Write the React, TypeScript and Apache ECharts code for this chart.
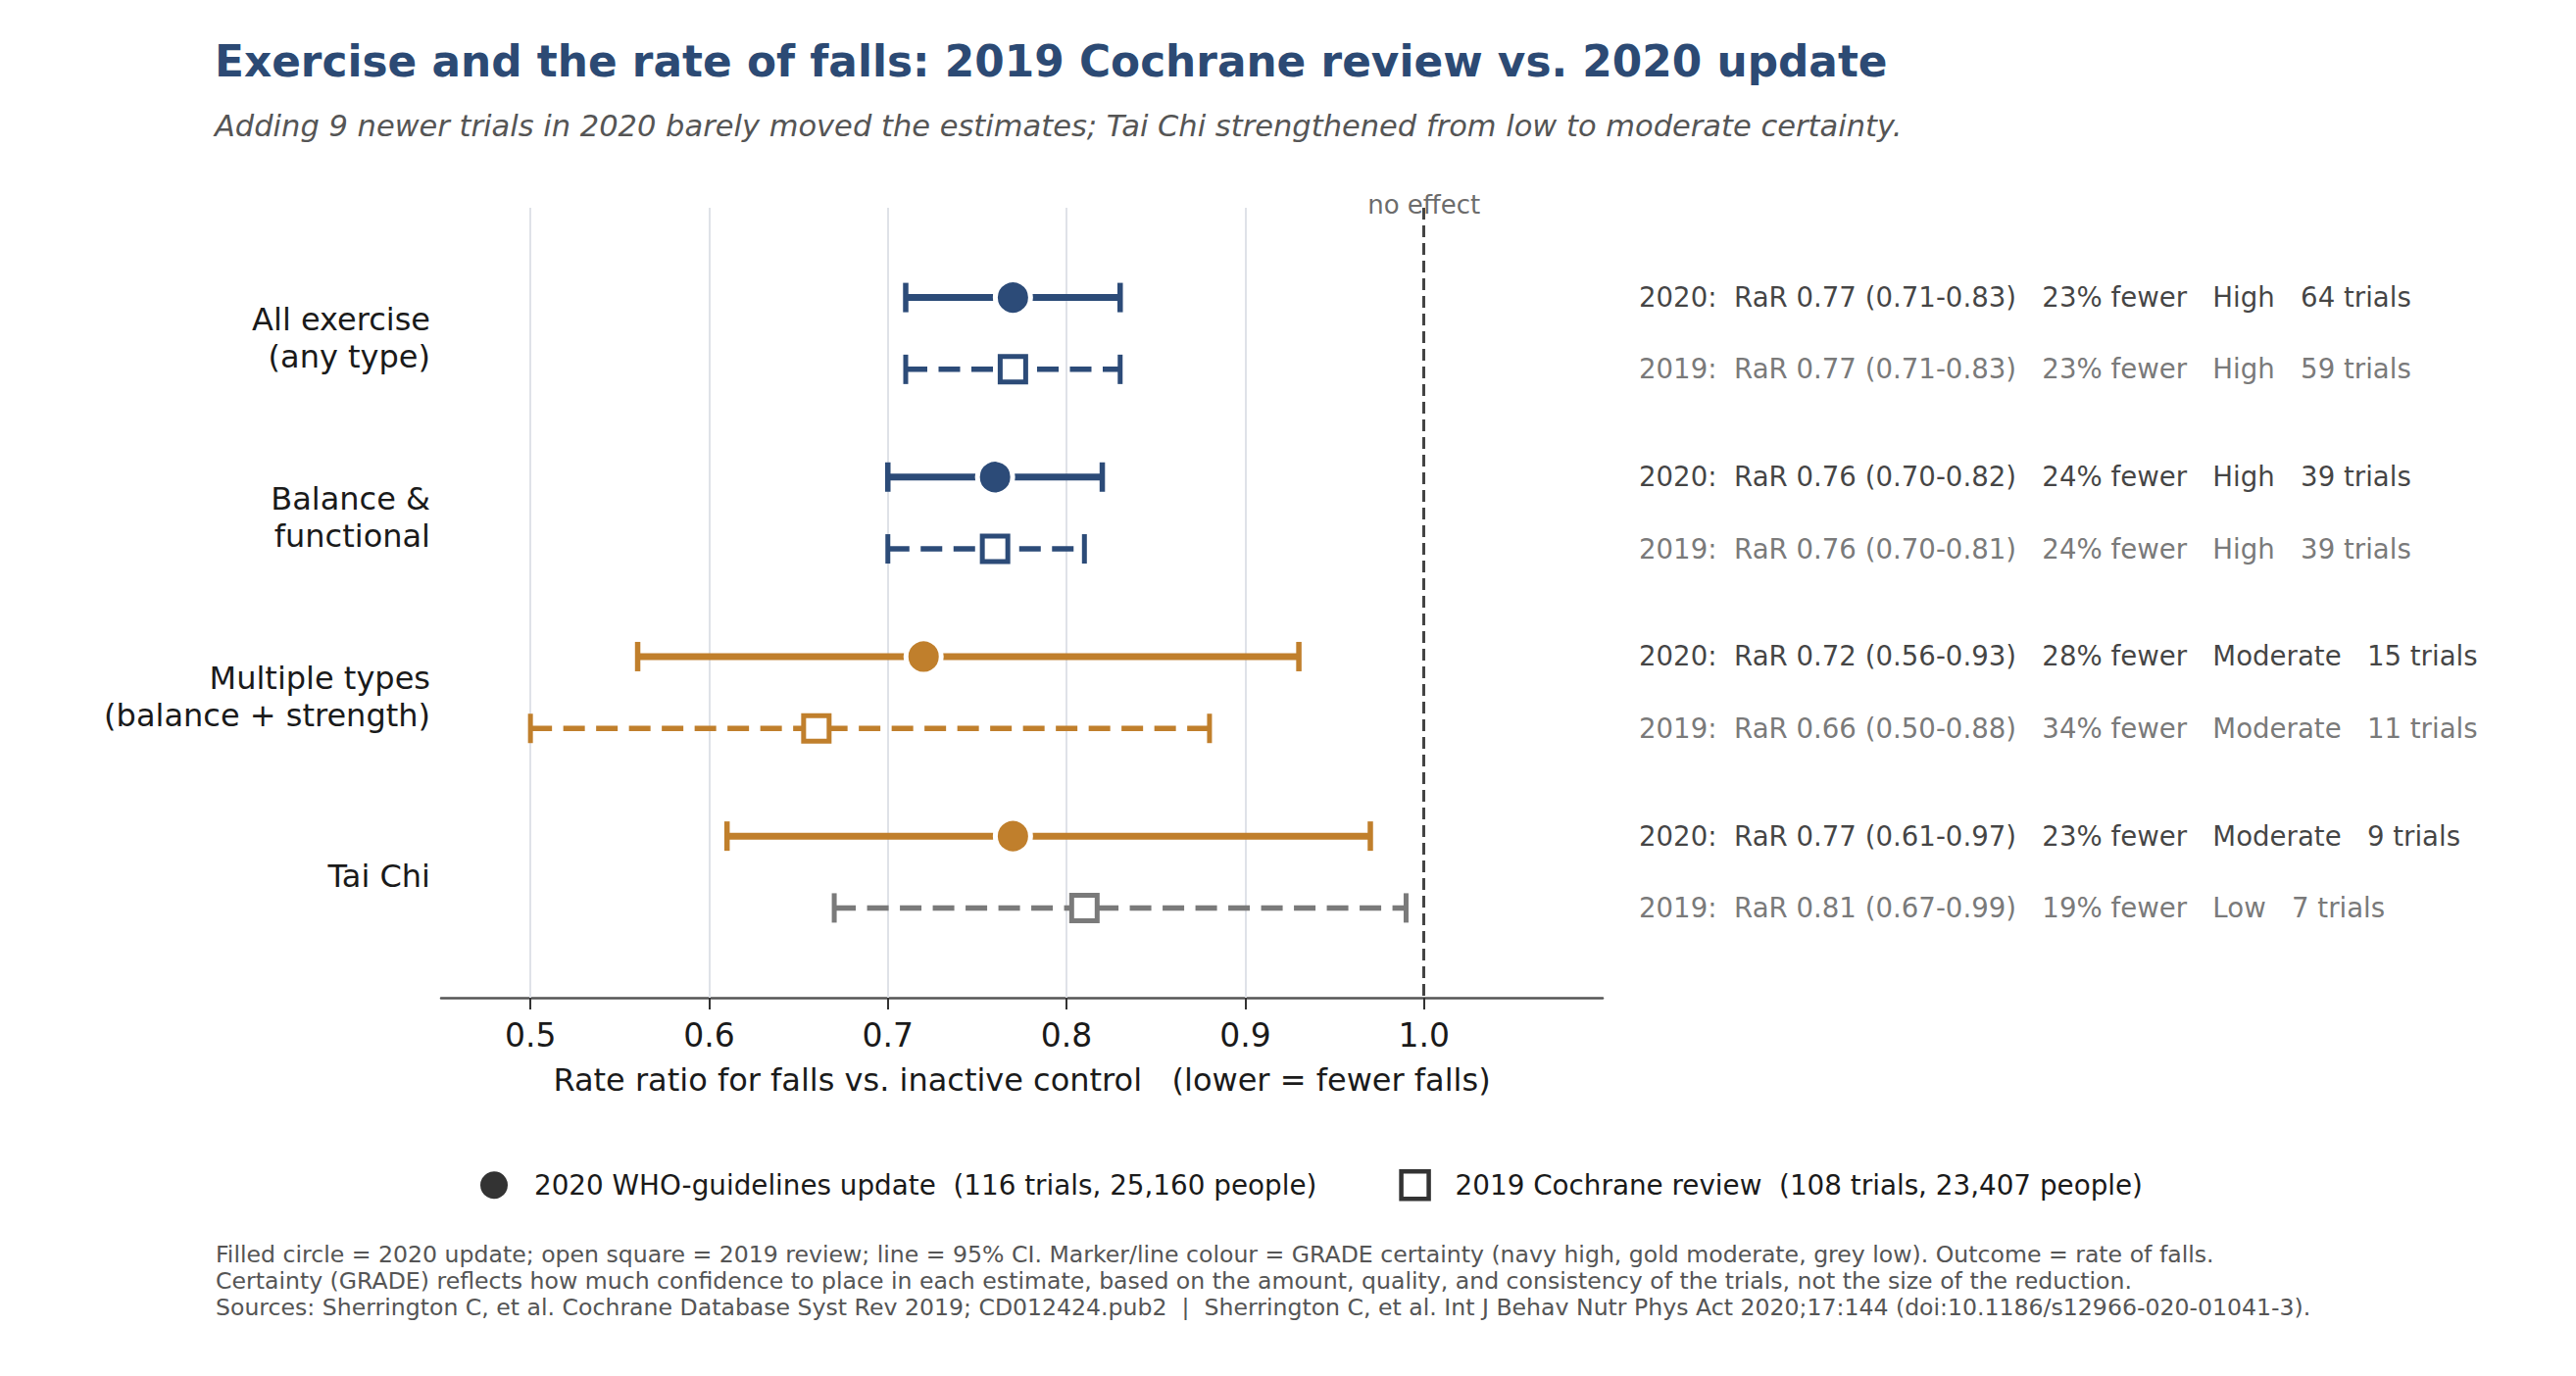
import React, { useEffect, useRef } from "react";
import * as echarts from "echarts";

// ---------- data ----------
const categories = [
  "All exercise\n(any type)",
  "Balance &\nfunctional",
  "Multiple types\n(balance + strength)",
  "Tai Chi",
];
const xTicks = [0.5, 0.6, 0.7, 0.8, 0.9, 1.0];
const gridValues = [0.5, 0.6, 0.7, 0.8, 0.9];
const noEffect = 1.0;

// 2020 WHO-guidelines update
const est2020 = [0.77, 0.76, 0.72, 0.77];
const lo2020 = [0.71, 0.7, 0.56, 0.61];
const hi2020 = [0.83, 0.82, 0.93, 0.97];
const fewer2020 = [23, 24, 28, 23];
const grade2020 = ["High", "High", "Moderate", "Moderate"];
const trials2020 = [64, 39, 15, 9];

// 2019 Cochrane review
const est2019 = [0.77, 0.76, 0.66, 0.81];
const lo2019 = [0.71, 0.7, 0.5, 0.67];
const hi2019 = [0.83, 0.81, 0.88, 0.99];
const fewer2019 = [23, 24, 34, 19];
const grade2019 = ["High", "High", "Moderate", "Low"];
const trials2019 = [59, 39, 11, 7];

const legend2020 = "2020 WHO-guidelines update  (116 trials, 25,160 people)";
const legend2019 = "2019 Cochrane review  (108 trials, 23,407 people)";

const titleText = "Exercise and the rate of falls: 2019 Cochrane review vs. 2020 update";
const subtitleText =
  "Adding 9 newer trials in 2020 barely moved the estimates; Tai Chi strengthened from low to moderate certainty.";
const footLines = [
  "Filled circle = 2020 update; open square = 2019 review; line = 95% CI. Marker/line colour = GRADE certainty (navy high, gold moderate, grey low). Outcome = rate of falls.",
  "Certainty (GRADE) reflects how much confidence to place in each estimate, based on the amount, quality, and consistency of the trials, not the size of the reduction.",
  "Sources: Sherrington C, et al. Cochrane Database Syst Rev 2019; CD012424.pub2  |  Sherrington C, et al. Int J Behav Nutr Phys Act 2020;17:144 (doi:10.1186/s12966-020-01041-3).",
];

// ---------- styling ----------
const FONT = "DejaVu Sans";
const GRADE_COLORS: Record<string, string> = {
  High: "#2c4b78",
  Moderate: "#c07f2c",
  Low: "#7a7a7a",
};
const ROW_OFFSET = 0.2;
const LABEL_NUDGE = 0.025;
const X_MIN = 0.45;
const X_MAX = 1.1;

type Row = {
  year: string;
  y: number;
  est: number;
  lo: number;
  hi: number;
  fewer: number;
  grade: string;
  trials: number;
  dashed: boolean;
};

function buildRows(): Row[] {
  const rows: Row[] = [];
  categories.forEach((_, i) => {
    rows.push({
      year: "2020",
      y: i - ROW_OFFSET,
      est: est2020[i],
      lo: lo2020[i],
      hi: hi2020[i],
      fewer: fewer2020[i],
      grade: grade2020[i],
      trials: trials2020[i],
      dashed: false,
    });
    rows.push({
      year: "2019",
      y: i + ROW_OFFSET,
      est: est2019[i],
      lo: lo2019[i],
      hi: hi2019[i],
      fewer: fewer2019[i],
      grade: grade2019[i],
      trials: trials2019[i],
      dashed: true,
    });
  });
  return rows;
}

export default function App() {
  const ref = useRef<HTMLDivElement>(null);

  useEffect(() => {
    document.body.style.margin = "0";
    if (!ref.current) return;
    const chart = echarts.init(ref.current, null, { renderer: "svg" });
    const rows = buildRows();

    const option: any = {
      animation: false,
      backgroundColor: "#ffffff",
      textStyle: { fontFamily: FONT },
      title: [
        {
          text: titleText,
          left: 219,
          top: 36,
          padding: 0,
          textStyle: {
            fontFamily: FONT,
            fontSize: 43.8,
            fontWeight: "bold",
            color: "#2c4a74",
            lineHeight: 52,
          },
        },
        {
          text: subtitleText,
          left: 219,
          top: 110,
          padding: 0,
          textStyle: {
            fontFamily: FONT,
            fontSize: 30.5,
            fontStyle: "italic",
            fontWeight: "normal",
            color: "#555555",
            lineHeight: 36,
          },
        },
        {
          text: footLines.join("\n"),
          left: 220,
          top: 1266,
          padding: 0,
          textStyle: {
            fontFamily: FONT,
            fontSize: 23.6,
            fontWeight: "normal",
            color: "#555555",
            lineHeight: 27,
          },
        },
      ],
      legend: {
        left: 485,
        top: 1188,
        itemWidth: 28,
        itemHeight: 28,
        itemGap: 84,
        textStyle: { fontFamily: FONT, fontSize: 27.8, color: "#1a1a1a", padding: [0, 0, 0, 22] },
        data: [
          { name: legend2020, icon: "circle", itemStyle: { color: "#333333", borderWidth: 0 } },
          {
            name: legend2019,
            icon: "rect",
            itemStyle: { color: "#ffffff", borderColor: "#333333", borderWidth: 4.5 },
          },
        ],
      },
      grid: { left: 450, right: 993, top: 212, bottom: 386 },
      xAxis: {
        type: "value",
        min: X_MIN,
        max: X_MAX,
        axisLine: { show: true, onZero: false, lineStyle: { color: "#555555", width: 2.5 } },
        axisTick: {
          show: true,
          customValues: xTicks,
          length: 12,
          lineStyle: { color: "#333333", width: 2 },
        },
        axisLabel: {
          customValues: xTicks,
          formatter: (v: number) => v.toFixed(1),
          fontFamily: FONT,
          fontSize: 33,
          color: "#1a1a1a",
          margin: 22,
        },
        splitLine: { show: false },
        name: "Rate ratio for falls vs. inactive control   (lower = fewer falls)",
        nameLocation: "middle",
        nameGap: 68,
        nameTextStyle: { fontFamily: FONT, fontSize: 32, color: "#1a1a1a" },
      },
      yAxis: {
        type: "value",
        min: -0.7,
        max: categories.length - 0.3,
        inverse: true,
        axisLine: { show: false },
        axisTick: { show: false },
        splitLine: { show: false },
        axisLabel: {
          customValues: categories.map((_, i) => i + LABEL_NUDGE),
          formatter: (v: number) => categories[Math.round(v)] ?? "",
          fontFamily: FONT,
          fontSize: 32,
          lineHeight: 38,
          color: "#1a1a1a",
          align: "right",
          margin: 11,
        },
      },
      series: [
        // vertical grid lines
        {
          type: "line",
          data: [],
          z: 1,
          silent: true,
          markLine: {
            z: 1,
            silent: true,
            symbol: "none",
            label: { show: false },
            lineStyle: { color: "#dfe2e8", width: 2, type: "solid" },
            data: gridValues.map((v) => ({ xAxis: v })),
          },
        },
        // no-effect reference line + label
        {
          type: "scatter",
          z: 2,
          silent: true,
          symbolSize: 0,
          clip: false,
          data: [{ value: [noEffect, -0.7] }],
          label: {
            show: true,
            position: "inside",
            offset: [0, -3],
            formatter: "no effect",
            fontFamily: FONT,
            fontSize: 26,
            color: "#444444",
          },
          markLine: {
            z: 2,
            silent: true,
            symbol: "none",
            label: { show: false },
            lineStyle: { color: "#444444", width: 3, type: [12, 6] },
            data: [{ xAxis: noEffect }],
          },
        },
        // confidence intervals
        {
          type: "custom",
          z: 3,
          silent: true,
          data: rows.map((r) => [r.lo, r.hi, r.y]),
          encode: { x: [0, 1], y: 2 },
          renderItem: (params: any, api: any) => {
            const r = rows[params.dataIndex];
            const lo = api.value(0);
            const hi = api.value(1);
            const y = api.value(2);
            const p1 = api.coord([lo, y]);
            const p2 = api.coord([hi, y]);
            const color = GRADE_COLORS[r.grade];
            const lw = r.dashed ? 5.5 : 7;
            const capW = r.dashed ? 5 : 5.5;
            const capH = 15;
            return {
              type: "group",
              children: [
                {
                  type: "line",
                  shape: { x1: p1[0], y1: p1[1], x2: p2[0], y2: p2[1] },
                  style: {
                    stroke: color,
                    lineWidth: lw,
                    lineDash: r.dashed ? [22, 11.5] : null,
                  },
                },
                {
                  type: "line",
                  shape: { x1: p1[0], y1: p1[1] - capH, x2: p1[0], y2: p1[1] + capH },
                  style: { stroke: color, lineWidth: capW },
                },
                {
                  type: "line",
                  shape: { x1: p2[0], y1: p2[1] - capH, x2: p2[0], y2: p2[1] + capH },
                  style: { stroke: color, lineWidth: capW },
                },
              ],
            };
          },
        },
        // 2020 markers
        {
          type: "scatter",
          name: legend2020,
          z: 4,
          symbol: "circle",
          symbolSize: 36,
          itemStyle: { color: "#333333", borderColor: "#ffffff", borderWidth: 5, opacity: 1 },
          data: rows
            .filter((r) => !r.dashed)
            .map((r) => ({
              value: [r.est, r.y],
              itemStyle: { color: GRADE_COLORS[r.grade] },
            })),
        },
        // 2019 markers
        {
          type: "scatter",
          name: legend2019,
          z: 4,
          symbol: "rect",
          symbolSize: 26,
          itemStyle: { color: "#ffffff", borderColor: "#333333", borderWidth: 5, opacity: 1 },
          data: rows
            .filter((r) => r.dashed)
            .map((r) => ({
              value: [r.est, r.y],
              itemStyle: { borderColor: GRADE_COLORS[r.grade] },
            })),
        },
        // right-hand annotations
        {
          type: "scatter",
          z: 5,
          silent: true,
          symbolSize: 0,
          clip: false,
          data: rows.map((r) => ({
            value: [X_MAX, r.y],
            name: `${r.year}:  RaR ${r.est.toFixed(2)} (${r.lo.toFixed(2)}-${r.hi.toFixed(
              2
            )})   ${r.fewer}% fewer   ${r.grade}   ${r.trials} trials`,
            label: { color: r.dashed ? "#555555" : "#111111" },
          })),
          label: {
            show: true,
            position: "right",
            distance: 37,
            formatter: "{b}",
            fontFamily: FONT,
            fontSize: 27.6,
          },
        },
      ],
    };

    chart.setOption(option);
    return () => chart.dispose();
  }, []);

  return <div ref={ref} style={{ width: 2628, height: 1404 }} />;
}
